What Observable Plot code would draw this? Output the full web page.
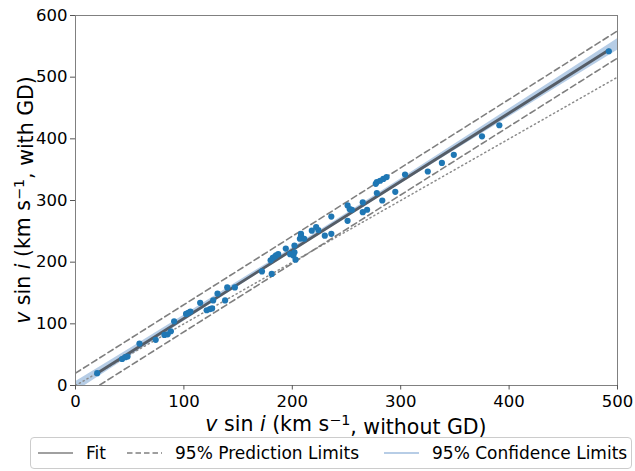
<!DOCTYPE html>
<html>
<head>
<meta charset="utf-8">
<script src="https://cdn.jsdelivr.net/npm/d3@7"></script>
<script src="https://cdn.jsdelivr.net/npm/@observablehq/plot@0.6"></script>
<style>
  body { margin: 0; background: #fff; font-family: "DejaVu Sans", sans-serif; }
  #wrap { position: relative; width: 635px; height: 471px; overflow: hidden; }
  #legend { position: absolute; left: 30px; top: 437px; width: 602px; height: 32px;
            border: 1px solid #cccccc; border-radius: 4px; box-sizing: border-box;
            font-size: 17px; color: #000; background: #fff; }
  .item { position: absolute; top: 0; height: 30px; display: flex; align-items: center; white-space: nowrap; }
  .item svg { margin-right: 13px; }
</style>
</head>
<body>
<div id="wrap">
  <div id="chart"></div>
  <div id="legend"></div>
</div>
<script>
// Data points: v sin i without GD (x) and with GD (y), km/s
const ptX = [20, 43, 46, 48, 59, 74, 82, 85, 88, 91, 102, 104, 106, 115, 121, 124, 126, 127, 131, 138, 140, 147,
  172, 181, 180, 182, 184, 185, 187, 194, 198, 201, 202, 202, 203, 207, 208, 208, 211, 218, 222, 224, 230, 236, 236,
  251, 253, 255, 251, 265, 265, 269, 278, 277, 278, 281, 284, 287, 283, 295, 304, 325, 338, 349, 375, 391, 492];
const ptY = [20, 43, 46, 47, 68, 74, 82, 83, 88, 104, 116, 118, 120, 134, 122, 124, 125, 138, 149, 138, 159, 159,
  185, 181, 203, 207, 209, 211, 213, 222, 213, 211, 216, 227, 204, 238, 243, 246, 238, 251, 257, 252, 243, 274, 246,
  292, 286, 285, 267, 297, 281, 285, 312, 327, 330, 332, 335, 338, 300, 314, 342, 347, 361, 374, 404, 422, 542];

// Linear fit line (endpoints)
const fitX = [20, 492];
const fitY = [20, 544];

// 95% prediction limits
const predX = [0, 500];
const predUpper = [20, 575];
const predLower = [-24, 531];

// 95% confidence band
const bandX  = [0, 100, 200, 300, 400, 500];
const bandLo = [-10, 104, 216.5, 327, 435.5, 543.5];
const bandHi = [6, 114, 223.5, 335, 448.5, 562.5];

// 1:1 reference line
const oneX = [0, 500];
const oneY = [0, 500];

const xTicks = [0, 100, 200, 300, 400, 500];
const yTicks = [0, 100, 200, 300, 400, 500, 600];

const legendLabels = ["Fit", "95% Prediction Limits", "95% Confidence Limits"];

const points = ptX.map((x, i) => ({x, y: ptY[i]}));
const fit = fitX.map((x, i) => ({x, y: fitY[i]}));
const up = predX.map((x, i) => ({x, y: predUpper[i]}));
const lo = predX.map((x, i) => ({x, y: predLower[i]}));
const band = bandX.map((x, i) => ({x, lo: bandLo[i], hi: bandHi[i]}));
const one = oneX.map((x, i) => ({x, y: oneY[i]}));

const W = 635, H = 440, ML = 75, MR = 18, MT = 15, MB = 55;

const chart = Plot.plot({
  width: W, height: H,
  marginLeft: ML, marginRight: MR, marginTop: MT, marginBottom: MB,
  style: { fontFamily: "DejaVu Sans, sans-serif", fontSize: "16.5px", color: "#000", background: "#fff" },
  x: { domain: [0, 500] },
  y: { domain: [0, 600] },
  marks: [
    Plot.areaY(band, { x: "x", y1: "lo", y2: "hi", fill: "#a9c4e2", fillOpacity: 0.85, curve: "monotone-x", clip: true }),
    Plot.line(one, { x: "x", y: "y", stroke: "#8c8c8c", strokeWidth: 1.5, strokeDasharray: "1.2,3.2", clip: true }),
    Plot.line(up, { x: "x", y: "y", stroke: "#7f7f7f", strokeWidth: 1.6, strokeDasharray: "6,3.6", clip: true }),
    Plot.line(lo, { x: "x", y: "y", stroke: "#7f7f7f", strokeWidth: 1.6, strokeDasharray: "6,3.6", clip: true }),
    Plot.line(fit, { x: "x", y: "y", stroke: "#555d67", strokeWidth: 2.9, clip: true }),
    Plot.dot(points, { x: "x", y: "y", r: 3.1, fill: "#1f77b4", stroke: "none" }),
    Plot.frame({ stroke: "#808080", strokeWidth: 1 }),
    Plot.axisX({ ticks: xTicks, tickSize: 4.5, tickPadding: 5, label: null, stroke: "#555", fontSize: 16.5 }),
    Plot.axisY({ ticks: yTicks, tickSize: 5, tickPadding: 3, label: null, stroke: "#555", fontSize: 16.5 })
  ]
});
document.getElementById("chart").appendChild(chart);

// Axis titles with italics and superscripts
const svg = d3.select(chart);
const LFS = 20.5;
function label(sel, tail) {
  sel.append("tspan").attr("font-style", "italic").text("v");
  sel.append("tspan").text(" sin ");
  sel.append("tspan").attr("font-style", "italic").text("i");
  sel.append("tspan").text(" (km s");
  sel.append("tspan").attr("dy", "-0.45em").attr("font-size", "0.7em").text("\u22121");
  sel.append("tspan").attr("dy", "0.45em").text(tail);
}
const xl = svg.append("text")
  .attr("x", ML + (W - ML - MR) / 2).attr("y", 431)
  .attr("text-anchor", "middle").attr("font-size", LFS).attr("fill", "#000")
  .attr("font-family", "DejaVu Sans, sans-serif");
label(xl, ", without GD)");
const yl = svg.append("text")
  .attr("transform", `translate(30,${MT + (385 - MT) / 2}) rotate(-90)`)
  .attr("text-anchor", "middle").attr("font-size", LFS).attr("fill", "#000")
  .attr("font-family", "DejaVu Sans, sans-serif");
label(yl, ", with GD)");

// Legend
const legendStyles = [
  { left: 7, stroke: "#808080", dash: null, width: 1.6 },
  { left: 96, stroke: "#808080", dash: "5.5,3", width: 1.6 },
  { left: 353, stroke: "#b7cde6", dash: null, width: 2 }
];
const leg = d3.select("#legend");
legendStyles.forEach((d, i) => {
  const it = leg.append("div").attr("class", "item").style("left", d.left + "px");
  const s = it.append("svg").attr("width", 35).attr("height", 10);
  const ln = s.append("line").attr("x1", 0).attr("x2", 35).attr("y1", 5).attr("y2", 5)
    .attr("stroke", d.stroke).attr("stroke-width", d.width);
  if (d.dash) ln.attr("stroke-dasharray", d.dash);
  it.append("span").text(legendLabels[i]);
});
</script>
</body>
</html>
